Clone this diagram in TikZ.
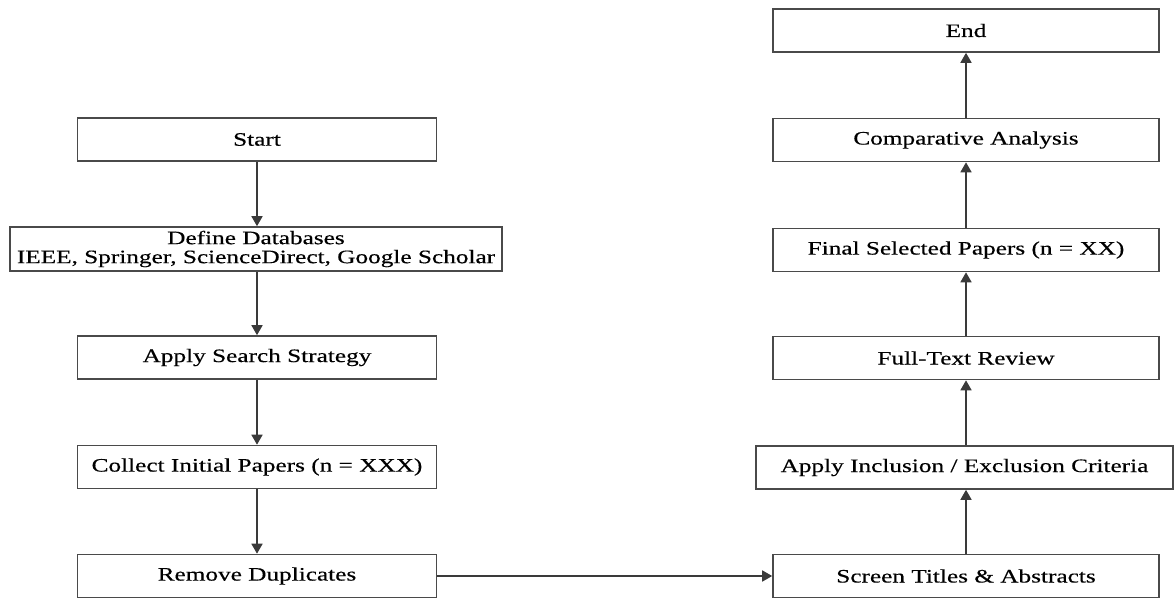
\documentclass[tikz,border=0pt]{standalone}
\usepackage{fontspec}
\setmainfont{Liberation Serif}[FakeStretch=1.33, FakeBold=0.4]
\usetikzlibrary{arrows.meta}
\definecolor{boxline}{HTML}{4A4A4A}
\definecolor{arrline}{HTML}{3A3A3A}
\tikzset{
  box/.style={draw=boxline, line width=1.6pt, rectangle, inner sep=0pt,
    minimum height=43pt, font=\fontsize{19}{19}\selectfont, align=center, text=black},
  lbox/.style={box, minimum width=359pt},
  rbox/.style={box, minimum width=386pt},
  flow/.style={draw=arrline, line width=1.6pt, -{Triangle[length=10pt,width=11pt]}}
}
\begin{document}
\begin{tikzpicture}[x=1pt,y=1pt]
\useasboundingbox (0,0) rectangle (1174,-599);
% left column
\node[lbox] (start) at (257,-139.5) {Start};
\node[box, minimum width=492pt, minimum height=44pt] (db) at (256,-249) {Define Databases\\IEEE, Springer, ScienceDirect, Google Scholar};
\node[lbox] (search) at (257,-357.5) {Apply Search Strategy};
\node[lbox] (collect) at (257,-467) {Collect Initial Papers (n = XXX)};
\node[lbox] (dup) at (257,-576) {Remove Duplicates};
% right column
\node[rbox] (screen) at (966,-576) {Screen Titles \& Abstracts};
\node[box, minimum width=417pt] (incl) at (964.5,-467.5) {Apply Inclusion / Exclusion Criteria};
\node[rbox] (full) at (966,-358) {Full-Text Review};
\node[rbox] (final) at (966,-250) {Final Selected Papers (n = XX)};
\node[rbox] (comp) at (966,-140) {Comparative Analysis};
\node[rbox] (end) at (966,-30.5) {End};
% connectors
\draw[flow] (start.south) -- (start.south |- db.north);
\draw[flow] (start.south |- db.south) -- (search.north);
\draw[flow] (search.south) -- (collect.north);
\draw[flow] (collect.south) -- (dup.north);
\draw[flow] (dup.east) -- (screen.west);
\draw[flow] (screen.north) -- (screen.north |- incl.south);
\draw[flow] (screen.north |- incl.north) -- (full.south);
\draw[flow] (full.north) -- (final.south);
\draw[flow] (final.north) -- (comp.south);
\draw[flow] (comp.north) -- (end.south);
\end{tikzpicture}
\end{document}
